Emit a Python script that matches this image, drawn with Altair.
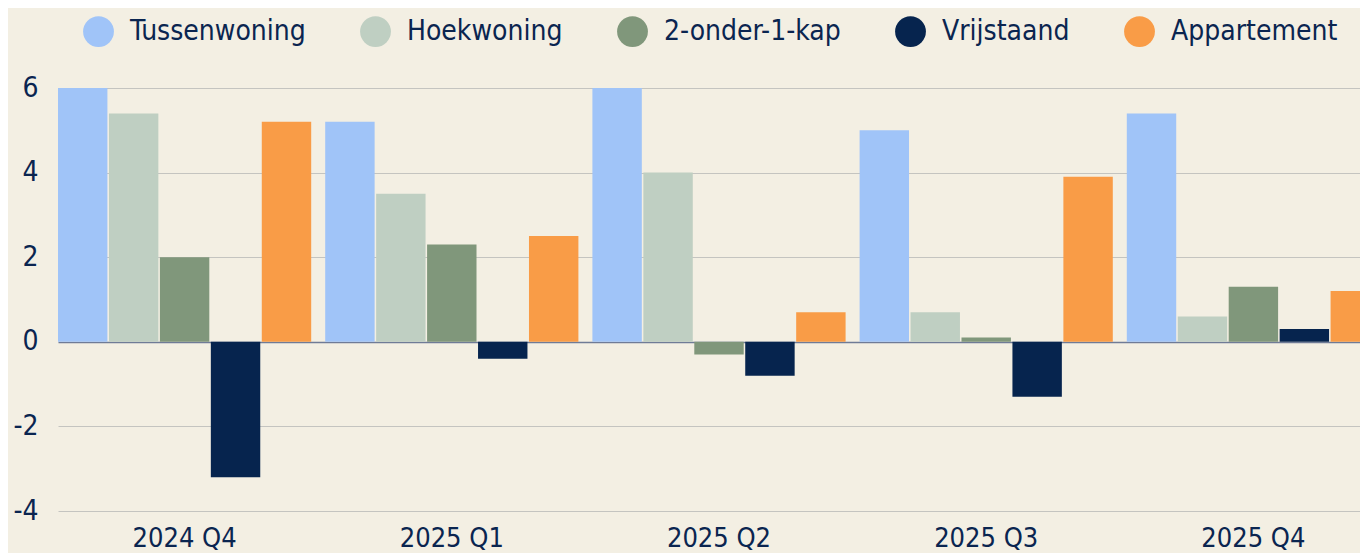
import altair as alt
import pandas as pd

quarters = ["2024 Q4", "2025 Q1", "2025 Q2", "2025 Q3", "2025 Q4"]
types = ["Tussenwoning", "Hoekwoning", "2-onder-1-kap", "Vrijstaand", "Appartement"]
colors = ["#a0c4f8", "#bfcfc2", "#80977b", "#06244e", "#f99c47"]

tussenwoning = [6.0, 5.2, 6.0, 5.0, 5.4]
hoekwoning = [5.4, 3.5, 4.0, 0.7, 0.6]
twee_onder_een_kap = [2.0, 2.3, -0.3, 0.1, 1.3]
vrijstaand = [-3.2, -0.4, -0.8, -1.3, 0.3]
appartement = [5.2, 2.5, 0.7, 3.9, 1.2]

series = [tussenwoning, hoekwoning, twee_onder_een_kap, vrijstaand, appartement]
rows = []
for t, vals in zip(types, series):
    for q, v in zip(quarters, vals):
        rows.append({"kwartaal": q, "type": t, "waarde": v})
df = pd.DataFrame(rows)

FONT = "DejaVu Sans Condensed, Liberation Sans Narrow, Roboto"
TXT = "#0a2550"

chart = alt.Chart(df).mark_bar().encode(
    x=alt.X("kwartaal:N", sort=quarters, title=None,
            scale=alt.Scale(paddingInner=0.0524, paddingOuter=0),
            axis=alt.Axis(labelAngle=0, ticks=False, domain=False, grid=False,
                          labelPadding=14, labelFontSize=27, labelColor=TXT,
                          labelFont=FONT, labelBaseline="top")),
    xOffset=alt.XOffset("type:N", sort=types,
                        scale=alt.Scale(paddingInner=0.03, paddingOuter=0)),
    y=alt.Y("waarde:Q", title=None,
            scale=alt.Scale(domain=[-4, 6], nice=False),
            axis=alt.Axis(values=[-4, -2, 0, 2, 4, 6], ticks=False, domain=False,
                          labelPadding=20, labelFontSize=28, labelColor=TXT,
                          labelFont=FONT, labelExpr="'' + datum.value",
                          gridColor={"condition": {"test": "datum.value === 0", "value": "#6f7b96"}, "value": "#c4c4c0"},
                          gridWidth={"condition": {"test": "datum.value === 0", "value": 1.5}, "value": 1})),
    color=alt.Color("type:N", sort=types, title=None,
                    scale=alt.Scale(domain=types, range=colors),
                    legend=alt.Legend(orient="none", direction="horizontal",
                                      legendX=25, legendY=-72,
                                      symbolType="circle", symbolSize=950,
                                      symbolStrokeWidth=0, symbolOpacity=1,
                                      labelFontSize=28, labelColor=TXT, labelFont=FONT,
                                      labelOffset=16, columnPadding=54,
                                      labelLimit=400)),
).properties(
    width=1322, height=423,
    background="#f3efe3",
    autosize=alt.AutoSizeParams(type="none"),
    padding={"left": 50, "top": 80, "right": -20, "bottom": 46},
).configure_view(stroke=None)

chart.save("out.html", embed_options={"renderer": "svg", "actions": False})
